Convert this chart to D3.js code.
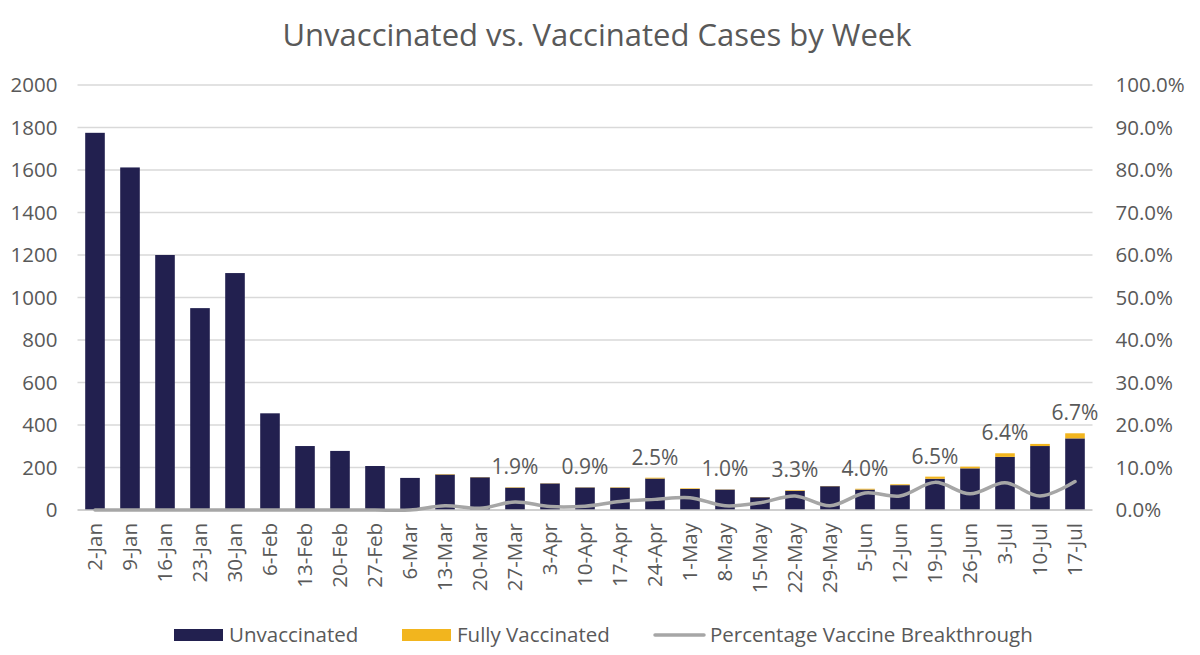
<!DOCTYPE html>
<html>
<head>
<meta charset="utf-8">
<script src="https://cdn.jsdelivr.net/npm/d3@7"></script>
<style>
  body { margin: 0; background: #fff; }
  svg { font-family: "Open Sans", sans-serif; }
</style>
</head>
<body>
<svg id="chart" width="1200" height="655"></svg>
<script>
// week labels
const weeks = ['2-Jan', '9-Jan', '16-Jan', '23-Jan', '30-Jan', '6-Feb', '13-Feb', '20-Feb', '27-Feb',
  '6-Mar', '13-Mar', '20-Mar', '27-Mar', '3-Apr', '10-Apr', '17-Apr', '24-Apr', '1-May', '8-May',
  '15-May', '22-May', '29-May', '5-Jun', '12-Jun', '19-Jun', '26-Jun', '3-Jul', '10-Jul', '17-Jul'];

// cases per week
const unvaccinated = [1775, 1612, 1200, 950, 1115, 455, 301, 278, 207, 151, 167, 154, 105, 125, 106,
  105, 148, 99, 96, 60, 90, 112, 96, 117, 147, 196, 250, 301, 337];
const fullyVaccinated = [0, 0, 0, 0, 0, 0, 0, 0, 0, 0, 2, 1, 2, 1, 1,
  2, 4, 3, 1, 1, 3, 1, 4, 4, 10, 8, 17, 10, 24];

// percentage vaccine breakthrough
const breakthrough = [0, 0, 0, 0, 0, 0, 0, 0, 0, 0, 1.0, 0.4, 1.9, 0.8, 0.9,
  2.0, 2.5, 2.9, 1.0, 1.7, 3.3, 1.0, 4.0, 3.3, 6.5, 3.8, 6.4, 3.3, 6.7];

// which weeks carry a data label
const labelledWeeks = ['27-Mar', '10-Apr', '24-Apr', '8-May', '22-May', '5-Jun', '19-Jun', '3-Jul', '17-Jul'];

const leftTicks = [0, 200, 400, 600, 800, 1000, 1200, 1400, 1600, 1800, 2000];
const rightTicks = [0, 10, 20, 30, 40, 50, 60, 70, 80, 90, 100];

const colors = { unvac: '#22204f', vac: '#f2b51e', line: '#a6a6a6', text: '#595959', grid: '#d9d9d9' };
const fontSize = '20.5px';

const svg = d3.select('#chart');
const plot = { left: 77.5, right: 1092.5, top: 85, bottom: 510 };

const x = d3.scaleBand().domain(weeks).range([plot.left, plot.right]).paddingInner(0.44).paddingOuter(0.22);
const yL = d3.scaleLinear().domain([0, 2000]).range([plot.bottom, plot.top]);
const yR = d3.scaleLinear().domain([0, 100]).range([plot.bottom, plot.top]);

// title
svg.append('text')
  .attr('x', 597).attr('y', 46)
  .attr('text-anchor', 'middle')
  .style('font-size', '31px')
  .style('fill', colors.text)
  .text('Unvaccinated vs. Vaccinated Cases by Week');

// gridlines
svg.append('g')
  .selectAll('line')
  .data(leftTicks.slice(1))
  .join('line')
  .attr('x1', plot.left).attr('x2', plot.right)
  .attr('y1', d => yL(d)).attr('y2', d => yL(d))
  .style('stroke', colors.grid)
  .style('stroke-width', 1.3);

// left axis
const axisL = svg.append('g')
  .attr('transform', `translate(${plot.left - 20},0)`)
  .call(d3.axisLeft(yL).tickValues(leftTicks).tickSize(0).tickPadding(0).tickFormat(d3.format('d')));
axisL.select('.domain').remove();
axisL.selectAll('text').style('font-size', fontSize).style('fill', colors.text).style('font-family', '"Open Sans", sans-serif');

// right axis
const axisR = svg.append('g')
  .attr('transform', `translate(${plot.right + 23},0)`)
  .call(d3.axisRight(yR).tickValues(rightTicks).tickSize(0).tickPadding(0).tickFormat(d => d.toFixed(1) + '%'));
axisR.select('.domain').remove();
axisR.selectAll('text').style('font-size', fontSize).style('fill', colors.text).style('font-family', '"Open Sans", sans-serif');

// stacked bars
const stackData = weeks.map((w, i) => ({ week: w, unvac: unvaccinated[i], vac: fullyVaccinated[i] }));
const series = d3.stack().keys(['unvac', 'vac'])(stackData);

svg.append('g')
  .selectAll('g')
  .data(series)
  .join('g')
  .style('fill', d => colors[d.key])
  .selectAll('rect')
  .data(d => d)
  .join('rect')
  .attr('x', d => x(d.data.week))
  .attr('width', x.bandwidth())
  .attr('y', d => yL(d[1]))
  .attr('height', d => yL(d[0]) - yL(d[1]));

// x axis line
svg.append('line')
  .attr('x1', plot.left).attr('x2', plot.right)
  .attr('y1', plot.bottom).attr('y2', plot.bottom)
  .style('stroke', '#bfbfbf')
  .style('stroke-width', 1.3);

// x axis labels
const axisX = svg.append('g')
  .attr('transform', `translate(0,${plot.bottom})`)
  .call(d3.axisBottom(x).tickSize(0).tickPadding(0));
axisX.select('.domain').remove();
axisX.selectAll('text')
  .attr('transform', 'rotate(-90)')
  .attr('x', -13).attr('y', 0).attr('dy', '0.35em')
  .style('text-anchor', 'end')
  .style('font-size', fontSize)
  .style('fill', colors.text)
  .style('font-family', '"Open Sans", sans-serif');

// breakthrough line
const line = d3.line()
  .x((d, i) => x(weeks[i]) + x.bandwidth() / 2)
  .y(d => yR(d))
  .curve(d3.curveCatmullRom.alpha(0.5));

svg.append('path')
  .datum(breakthrough)
  .attr('d', line)
  .style('fill', 'none')
  .style('stroke', colors.line)
  .style('stroke-width', 3.5)
  .style('stroke-linecap', 'round');

// data labels
svg.append('g')
  .selectAll('text')
  .data(labelledWeeks)
  .join('text')
  .attr('x', w => x(w) + x.bandwidth() / 2)
  .attr('y', w => {
    let i = weeks.indexOf(w);
    return Math.min(yL(unvaccinated[i] + fullyVaccinated[i]), yR(breakthrough[i])) - 13;
  })
  .attr('text-anchor', 'middle')
  .style('font-size', '21px')
  .style('fill', colors.text)
  .text(w => breakthrough[weeks.indexOf(w)].toFixed(1) + '%');

// legend
const legend = [
  { name: 'Unvaccinated', type: 'rect', color: colors.unvac, x: 174 },
  { name: 'Fully Vaccinated', type: 'rect', color: colors.vac, x: 402 },
  { name: 'Percentage Vaccine Breakthrough', type: 'line', color: colors.line, x: 655 }
];
const lg = svg.append('g').attr('transform', 'translate(0,635)');
legend.forEach(l => {
  if (l.type == 'rect') {
    lg.append('rect').attr('x', l.x).attr('y', -6).attr('width', 49).attr('height', 12).style('fill', l.color);
  } else {
    lg.append('line').attr('x1', l.x).attr('x2', l.x + 49).attr('y1', 0).attr('y2', 0)
      .style('stroke', l.color).style('stroke-width', 3.5).style('stroke-linecap', 'round');
  }
  lg.append('text')
    .attr('x', l.x + 55).attr('y', 0).attr('dy', '0.35em')
    .style('font-size', fontSize)
    .style('fill', colors.text)
    .text(l.name);
});
</script>
</body>
</html>
